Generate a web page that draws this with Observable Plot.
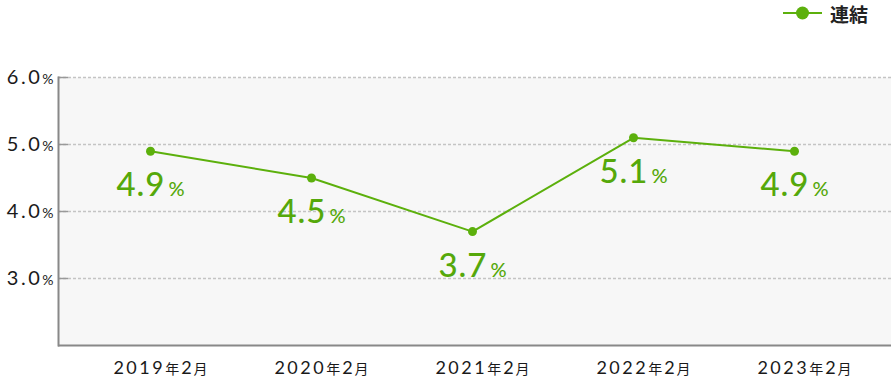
<!DOCTYPE html>
<html><head><meta charset="utf-8">
<script src="https://cdn.jsdelivr.net/npm/d3@7"></script>
<script src="https://cdn.jsdelivr.net/npm/@observablehq/plot@0.6"></script>
<style>
html,body{margin:0;padding:0;background:#fff;}
#wrap{position:relative;width:891px;height:379px;font-family:Lato,"Noto Sans CJK JP",sans-serif;}
#legend{position:absolute;top:0;left:783px;width:108px;height:28px;}
#legend svg, #chart svg{display:block;}
</style></head><body>
<div id="wrap"><div id="chart"></div><div id="legend"></div></div>
<script>
const categories = ["2019年2月","2020年2月","2021年2月","2022年2月","2023年2月"];
const values = [4.9, 4.5, 3.7, 5.1, 4.9];
const yTicks = [3, 4, 5, 6];
const seriesName = "連結";
const green = "#5cb00c";
const labelGreen = "#55a80a";

const data = categories.map((c, i) => ({period: c, value: values[i]}));

const chart = Plot.plot({
  width: 891, height: 379,
  marginLeft: 58, marginRight: 0, marginTop: 77, marginBottom: 34,
  style: {fontFamily: 'Lato, "Noto Sans CJK JP", sans-serif', background: "transparent", overflow: "visible"},
  x: {type: "point", domain: categories, padding: 0.571, align: 0.486, label: null},
  y: {domain: [2, 6], label: null},
  marks: [
    Plot.frame({fill: "#f7f7f7", stroke: null}),
    Plot.gridY(yTicks, {stroke: "#c4c4c4", strokeOpacity: 1, strokeWidth: 1.5, strokeDasharray: "3,2"}),
    Plot.ruleY(yTicks, {stroke: "#999", strokeWidth: 1.5, insetRight: 823}),
    Plot.frame({anchor: "left", stroke: "#888", strokeWidth: 2}),
    Plot.ruleY([2], {stroke: "#888", strokeWidth: 2}),
    Plot.axisY(yTicks, {label: null, tickSize: 0, tickPadding: 5, fontSize: 20, fill: "#1a1a1a", tickFormat: d => d.toFixed(1) + "%"}),
    Plot.axisX({label: null, tickSize: 0, tickPadding: 16, fontSize: 18, fill: "#1a1a1a", dx: 10}),
    Plot.line(data, {x: "period", y: "value", stroke: green, strokeWidth: 2}),
    Plot.dot(data, {x: "period", y: "value", r: 4.5, fill: green, stroke: null}),
    Plot.text(data, {x: "period", y: "value", text: d => d.value.toFixed(1) + "%", dy: 45, lineAnchor: "bottom", fontSize: 33, fontWeight: 500, fill: labelGreen})
  ]
});
document.getElementById("chart").appendChild(chart);

const svg = d3.select(chart);
function splitText(sel, parts) {
  sel.each(function() {
    const t = d3.select(this);
    const s = t.text();
    t.text(null);
    parts(s).forEach(([str, size, dx, ls]) => {
      const ts = t.append("tspan").attr("font-size", size).text(str);
      if (dx) ts.attr("dx", dx);
      if (ls) ts.attr("letter-spacing", ls);
    });
  });
}
// value labels: small %
splitText(svg.selectAll('g[aria-label="text"] text'), s => [[s.slice(0, -1), 33, 0, 1], ["%", 20, 3, 0]]);
// y tick labels
splitText(svg.selectAll('g[aria-label="y-axis tick label"] text'), s => [[s.slice(0, -1), 20, 0, 2.5], ["%", 14, 0, 0]]);
// x tick labels: small 年/月
splitText(svg.selectAll('g[aria-label="x-axis tick label"] text'), s => {
  const m = s.match(/^(\d+)(年)(\d+)(月)$/);
  return m ? [[m[1], 18, 0, 2.5], [m[2], 14, 0, 0], [m[3], 18, 2, 0], [m[4], 14, 2, 0]] : [[s, 18]];
});

// legend
const ls = d3.select("#legend").append("svg").attr("width", 108).attr("height", 28);
ls.append("line").attr("x1", 0).attr("x2", 39).attr("y1", 13).attr("y2", 13).attr("stroke", green).attr("stroke-width", 2);
ls.append("circle").attr("cx", 19.5).attr("cy", 13).attr("r", 6.5).attr("fill", green);
ls.append("text").attr("x", 47).attr("y", 22).attr("font-size", 19).attr("font-weight", 700)
  .attr("fill", "#222").attr("font-family", '"Noto Sans CJK JP", sans-serif').text(seriesName);
</script>
</body></html>
